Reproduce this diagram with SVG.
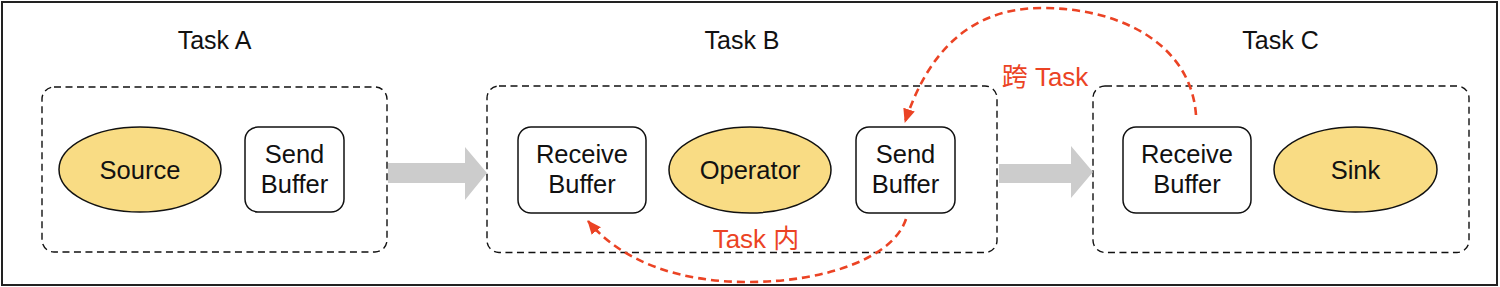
<svg xmlns="http://www.w3.org/2000/svg" width="1500" height="287" viewBox="0 0 1500 287">
<defs>
<style>
.frame{fill:#fff;stroke:#222;stroke-width:2}
.task{fill:none;stroke:#111;stroke-width:1.4;stroke-dasharray:7 4.5}
.op{fill:#F9DC84;stroke:#111;stroke-width:1.5}
.buf{fill:#fff;stroke:#111;stroke-width:1.5}
.big{fill:#cccccc}
.flow{fill:none;stroke:#EB4324;stroke-width:2.6;stroke-dasharray:8 5}
text{font-family:"Liberation Sans",Arial,"Noto Sans CJK SC",sans-serif;fill:#111;text-anchor:middle}
.t{font-size:25px}
.n{font-size:25.5px}
.r{font-size:26px;fill:#EB4324}
</style>
<marker id="ah" viewBox="0 0 14 14" refX="13" refY="7" markerWidth="14" markerHeight="14" markerUnits="userSpaceOnUse" orient="auto">
<path d="M0,1 L14,7 L0,13 z" fill="#EB4324"/>
</marker>
</defs>
<rect class="frame" x="2" y="2" width="1495" height="283"/>

<g id="taskA">
<rect class="task" x="42" y="87" width="345" height="165" rx="12"/>
<text class="t" x="214.5" y="49">Task A</text>
</g>
<g id="taskB">
<rect class="task" x="487" y="86" width="510" height="166.5" rx="12"/>
<text class="t" x="742" y="49">Task B</text>
</g>
<g id="taskC">
<rect class="task" x="1093" y="86" width="376" height="166.5" rx="12"/>
<text class="t" x="1280.5" y="49">Task C</text>
</g>

<g id="source">
<ellipse class="op" cx="140" cy="169.5" rx="81" ry="42.5"/>
<text class="n" x="140" y="178.5">Source</text>
</g>
<g id="sendA">
<rect class="buf" x="245" y="127" width="99" height="85" rx="13"/>
<text class="n" x="294.5" y="163">Send</text>
<text class="n" x="294.5" y="193">Buffer</text>
</g>
<g id="recvB">
<rect class="buf" x="518" y="127" width="128" height="86" rx="13"/>
<text class="n" x="582" y="163">Receive</text>
<text class="n" x="582" y="193">Buffer</text>
</g>
<g id="operator">
<ellipse class="op" cx="750" cy="170" rx="81" ry="43"/>
<text class="n" x="750" y="179">Operator</text>
</g>
<g id="sendB">
<rect class="buf" x="856" y="127" width="99" height="86" rx="13"/>
<text class="n" x="905.5" y="163">Send</text>
<text class="n" x="905.5" y="193">Buffer</text>
</g>
<g id="recvC">
<rect class="buf" x="1123" y="127" width="128" height="86" rx="13"/>
<text class="n" x="1187" y="163">Receive</text>
<text class="n" x="1187" y="193">Buffer</text>
</g>
<g id="sink">
<ellipse class="op" cx="1355.5" cy="169.5" rx="81.5" ry="42.5"/>
<text class="n" x="1355.5" y="178.5">Sink</text>
</g>

<g id="connectors">
<path class="big" d="M388,163 L465,163 L465,147 L487,173 L465,200 L465,183 L388,183 z"/>
<path class="big" d="M999,164 L1071,164 L1071,146 L1093,172 L1071,198 L1071,183 L999,183 z"/>
<path class="flow" marker-end="url(#ah)" d="M1196,115 C1191,45 1122,8 1042,8 C970,8 928,52 905,122"/>
<path class="flow" marker-end="url(#ah)" d="M906,219 C894,256 830,282 747,282 C680,282 622,262 588,221"/>
<text class="r" x="1045" y="86">跨 Task</text>
<text class="r" x="756" y="248">Task 内</text>
</g>
</svg>
